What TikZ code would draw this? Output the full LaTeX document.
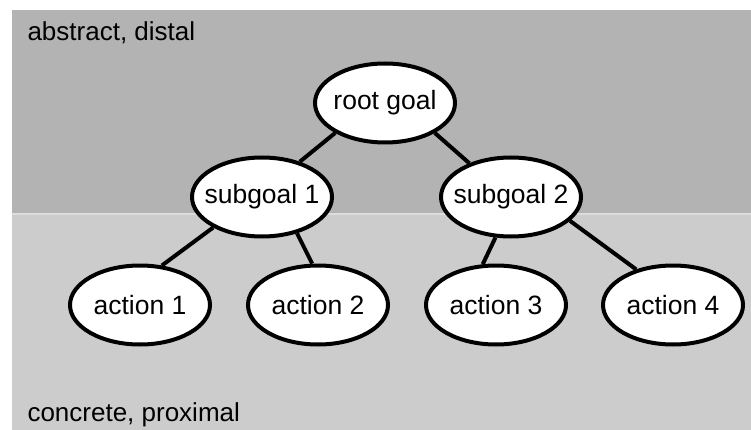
\documentclass[tikz,border=0pt]{standalone}
\usepackage{fontspec}
\setmainfont{Liberation Sans}
\usepackage{xcolor}
\usetikzlibrary{shapes,positioning,calc}
\definecolor{distalgray}{HTML}{B3B3B3}
\definecolor{proximalgray}{HTML}{CCCCCC}
\definecolor{seamgray}{HTML}{DDDDDD}

\begin{document}
\begin{tikzpicture}[x=1pt,y=-1pt,
  goal/.style={ellipse,draw,fill=white,line width=4pt,minimum width=140pt,minimum height=79pt,inner sep=-10pt,font=\fontsize{26.5}{30}\selectfont},
  link/.style={line width=4pt}]
\useasboundingbox (0,0) rectangle (751,430);
% Levels
\fill[distalgray] (12,10) rectangle (751,214);
\fill[proximalgray] (12,214) rectangle (751,430);
\draw[seamgray,line width=1.5pt] (12,214) -- (751,214);
\node[anchor=base west,font=\fontsize{26}{30}\selectfont] (distal) at (24,41) {abstract, distal};
\node[anchor=base west,font=\fontsize{26}{30}\selectfont] (proximal) at (24,421) {concrete, proximal};

% Goal tree
\node[goal] (root) at (385,103) {root goal};
\node[goal] (sub1) at (262,197) {subgoal 1};
\node[goal] (sub2) at (511,197) {subgoal 2};
\node[goal] (act1) at (140,305) {action 1};
\node[goal] (act2) at (318,305) {action 2};
\node[goal] (act3) at (496,305) {action 3};
\node[goal] (act4) at (673,305) {action 4};

% Links between levels
\begin{scope}[on background layer/.try]
\draw[link] (root.-149) -- (sub1.43);
\draw[link] (root.-31) -- (sub2.141);
\draw[link] (sub1.-148) -- (act1.61);
\draw[link] (sub1.-46) -- (act2.98);
\draw[link] (sub2.-111) -- (act3.108);
\draw[link] (sub2.-22) -- (act4.136);
\end{scope}

\end{tikzpicture}
\end{document}
